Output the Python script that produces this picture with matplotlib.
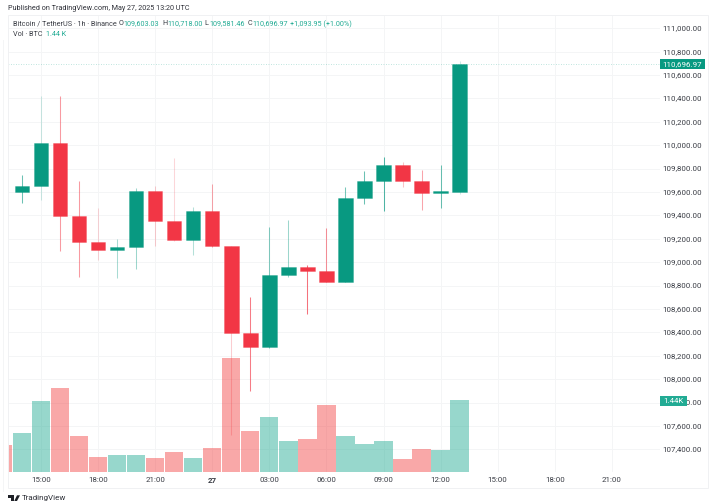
#!/usr/bin/env python3
import matplotlib
matplotlib.use("Agg")
import matplotlib.pyplot as plt
from matplotlib.colors import to_rgba
from matplotlib.patches import Rectangle, Polygon

plt.rcParams['font.family'] = ['Roboto', 'DejaVu Sans']

# hours counted from 15:00 on May 26
hours = list(range(-1, 23))
opens = [109597.6, 109654, 110016.6, 109392, 109175, 109107, 109132, 109609,
         109350, 109192, 109438, 109138, 108392, 108275, 108893, 108956,
         108927, 108833, 109549, 109697, 109834, 109697, 109589, 109603.03]
closes = [109654, 110016.6, 109392, 109175, 109107, 109132, 109609, 109350,
          109192, 109438, 109138, 108392, 108275, 108893, 108956, 108927,
          108833, 109549, 109697, 109834, 109697, 109589, 109609, 110696.97]
highs = [109746, 110421, 110421, 109694, 109463, 109198, 109634, 109652,
         109891, 109472, 109669, 109140, 108700, 109298, 109361, 108973,
         109292, 109640, 109782, 109897, 109854, 109788, 109831, 110718]
lows = [109509, 109532, 109096, 108876, 109019, 108865, 108944, 109141,
        109181, 109064, 109130, 107522, 107901, 108270, 108871, 108557,
        108830, 108830, 109500, 109438, 109646, 109446, 109463, 109581.46]

# volume in thousands BTC, starts one hour before the first candle
vol_hours = list(range(-2, 23))
volumes = [0.55, 0.776, 1.42, 1.70, 0.716, 0.308, 0.348, 0.348, 0.288, 0.40,
           0.274, 0.489, 2.30, 0.817, 1.11, 0.63, 0.67, 1.34, 0.716, 0.57,
           0.63, 0.268, 0.463, 0.44, 1.44]
vol_up = [False, True, True, False, False, False, True, True, False, False,
          True, False, False, False, True, True, False, False, True, True,
          True, False, False, True, True]

# wicks in the picture fall between pixels, so they fade unevenly
wick_alpha = [.6, .2, .5, .5, .2, .35, .4, .25, .2, .3, .45, .25,
              .65, .5, .4, .7, .55, .55, .6, .7, .3, .45, .6, .2]

time_ticks = [0, 3, 6, 9, 12, 15, 18, 21, 24, 27, 30]
time_labels = ["15:00", "18:00", "21:00", "27", "03:00", "06:00", "09:00",
               "12:00", "15:00", "18:00", "21:00"]
price_ticks = list(range(107400, 111001, 200))

UP = "#089981"
DOWN = "#F23645"
GRID = "#F4F5F6"
W, H = 713, 503
FS = 5.2
AXIS_FS = 5.7


def px_text(x, y, s, **kw):
    kw.setdefault("fontsize", FS)
    kw.setdefault("color", "#3a3d45")
    kw.setdefault("va", "center")
    return fig.text(x / W, 1 - y / H, s, **kw)


def px_rect(x0, y0, x1, y1, **kw):
    r = Rectangle((x0 / W, 1 - y1 / H), (x1 - x0) / W, (y1 - y0) / H,
                  transform=fig.transFigure, **kw)
    fig.add_artist(r)
    return r


fig = plt.figure(figsize=(W / 100, H / 100), dpi=100, facecolor="white")
rect = [8 / W, 1 - 472 / H, 652 / W, 457 / H]
ax = fig.add_axes(rect)
ax.set_xlim(-1.734, 32.53)
ax.set_ylim(107206, 111113.7)
for s in ax.spines.values():
    s.set_visible(False)

ax.set_axisbelow(True)
ax.grid(True, color=GRID, lw=0.7)
ax.set_xticks(time_ticks)
ax.set_xticklabels(time_labels)
ax.yaxis.tick_right()
ax.set_yticks(price_ticks)
ax.set_yticklabels(["{:,.2f}".format(p) for p in price_ticks])
ax.tick_params(axis="y", length=0, pad=30.3, labelsize=AXIS_FS, labelcolor="#3a3d45")
ax.tick_params(axis="x", length=0, pad=3.4, labelsize=AXIS_FS, labelcolor="#3a3d45")
ax.get_xticklabels()[3].set_fontweight("bold")
for tick in ax.yaxis.get_major_ticks():
    tick.label2.set_ha("right")
    tick.label2.set_va("center")

# candles
cols = [UP if c >= o else DOWN for o, c in zip(opens, closes)]
wick_cols = [to_rgba(c, a) for c, a in zip(cols, wick_alpha)]
ax.vlines(hours, lows, highs, colors=wick_cols, lw=0.75, zorder=2)
tops = [max(o, c) for o, c in zip(opens, closes)]
bottoms = [min(o, c) for o, c in zip(opens, closes)]
ax.bar(hours, [t - b for t, b in zip(tops, bottoms)], bottom=bottoms, width=0.76,
       color=cols, edgecolor=[to_rgba(c, 0.35) for c in cols], lw=0.6, zorder=3)
ax.axhline(closes[-1], color=UP, alpha=0.35, lw=0.6, ls=(0, (1, 2)), zorder=1)

# volume pane on its own scale
vax = fig.add_axes(rect, sharex=ax)
vax.patch.set_visible(False)
vax.set_ylim(0, 9.195)
vax.axis("off")
vax.bar(vol_hours, volumes, width=0.96,
        color=[to_rgba("#22AB94", 0.47) if u else to_rgba("#F23030", 0.42) for u in vol_up],
        lw=0)

# frame
px_rect(8, 15, 707.5, 488, fill=False, edgecolor="#F0F1F3", lw=0.7)
px_rect(3, 40, 3.7, 492, color="#F4F5F6", lw=0)

# last value tags
px_rect(660, 59, 705, 69, color=UP, lw=0, zorder=4)
px_text(682.5, 63.8, "110,696.97", color="white", ha="center", fontsize=AXIS_FS, zorder=5)
px_rect(660, 396, 687, 405.7, color="#22AB94", lw=0, zorder=4)
px_text(673.5, 400.8, "1.44K", color="white", ha="center", fontsize=AXIS_FS, zorder=5)

# header
px_text(8, 8.7, "Published on TradingView.com, May 27, 2025 13:20 UTC", color="#2e3038")
px_text(13, 24, "Bitcoin / TetherUS · 1h · Binance")
legend_row = [(118.3, "O", "109,603.03"), (162.7, "H", "110,718.00"),
              (204.7, "L", "109,581.46"), (247.7, "C", "110,696.97")]
for x, k, v in legend_row:
    px_text(x, 24, k)
    px_text(x + 4.7, 24, v, color="#22AB94")
px_text(290, 24, "+1,093.95 (+1.00%)", color="#22AB94")
px_text(13, 34, "Vol · BTC")
px_text(45.7, 34, "1.44 K", color="#22AB94")

# TradingView mark and name
logo = "#1f2127"
fig.add_artist(Polygon([(8 / W, 1 - 495.3 / H), (14 / W, 1 - 495.3 / H), (14 / W, 1 - 501 / H),
                        (11.3 / W, 1 - 501 / H), (11.3 / W, 1 - 497.6 / H), (8 / W, 1 - 497.6 / H)],
                       transform=fig.transFigure, color=logo, lw=0))
fig.add_artist(Polygon([(17 / W, 1 - 495.3 / H), (20 / W, 1 - 495.3 / H), (17 / W, 1 - 501 / H),
                        (14.3 / W, 1 - 501 / H)],
                       transform=fig.transFigure, color=logo, lw=0))
px_text(22, 498, "TradingView", fontsize=5.8, color="#2e3038")

fig.savefig("out.png", dpi=100)
